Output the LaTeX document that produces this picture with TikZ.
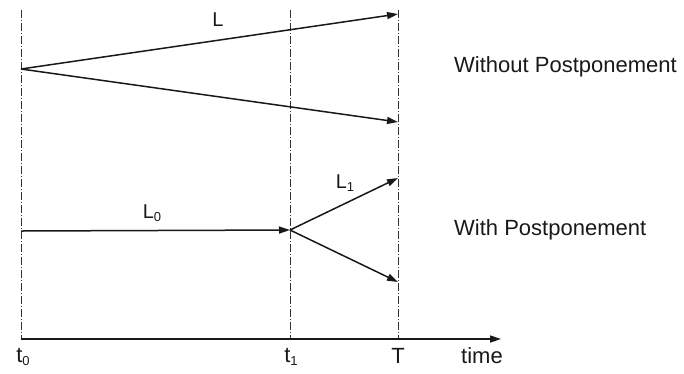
\documentclass[tikz,border=0pt]{standalone}
\usepackage{fontspec}
\setmainfont{Liberation Sans}
\usetikzlibrary{arrows.meta}
\newcommand\mysub[1]{\raisebox{-0.3ex}{\fontsize{13}{13}\selectfont #1}}
\tikzset{
  guide/.style={line width=1pt, dash pattern=on 8pt off 2pt on 1pt off 2pt, black!80},
  flow/.style={line width=1.5pt, black!90, -{Triangle[length=11pt,width=7pt]}},
  axis/.style={line width=1.6pt, black!90, -{Triangle[length=11pt,width=7pt]}},
  big/.style={font=\fontsize{22}{25}\selectfont, text=black!90, inner sep=0pt},
  lab/.style={font=\fontsize{20}{23}\selectfont, text=black!90, inner sep=0pt},
}
\begin{document}
\begin{tikzpicture}[x=1pt,y=-1pt]
\useasboundingbox (0,0) rectangle (684,373);
% guide lines
\coordinate (g0t) at (21,10);  \coordinate (g0b) at (21,339);
\coordinate (g1t) at (290,10); \coordinate (g1b) at (290,339);
\coordinate (gTt) at (398,10); \coordinate (gTb) at (398,339);
\draw[guide] (g0t) -- (g0b);
\draw[guide] (g1t) -- (g1b);
\draw[guide] (gTt) -- (gTb);
% axis
\coordinate (ax0) at (21,339);
\coordinate (axE) at (501,339);
\draw[axis] (ax0) -- (axE);
% upper: without postponement
\coordinate (u0) at (21,69);
\coordinate (uA) at (398,14);
\coordinate (uB) at (398,122);
\draw[flow] (u0) -- (uA);
\draw[flow] (u0) -- (uB);
\node[lab] (L) at (218,20) {L};
% lower: with postponement
\coordinate (w0) at (21,231);
\coordinate (w1) at (290,230);
\coordinate (wA) at (398,178);
\coordinate (wB) at (398,282);
\draw[flow] (w0) -- (w1);
\draw[flow] (w1) -- (wA);
\draw[flow] (w1) -- (wB);
\node[lab] (L0) at (152,213) {L\mysub{0}};
\node[lab] (L1) at (345,183) {L\mysub{1}};
% side texts
\node[big, anchor=west] (wo) at (454,67) {Without Postponement};
\node[big, anchor=west] (wi) at (454,230) {With Postponement};
% axis labels
\node[big] (t0) at (23,357) {t\mysub{0}};
\node[big] (t1) at (291,357) {t\mysub{1}};
\node[big] (T) at (398,356) {T};
\node[big] (time) at (482,356) {time};
\end{tikzpicture}
\end{document}
